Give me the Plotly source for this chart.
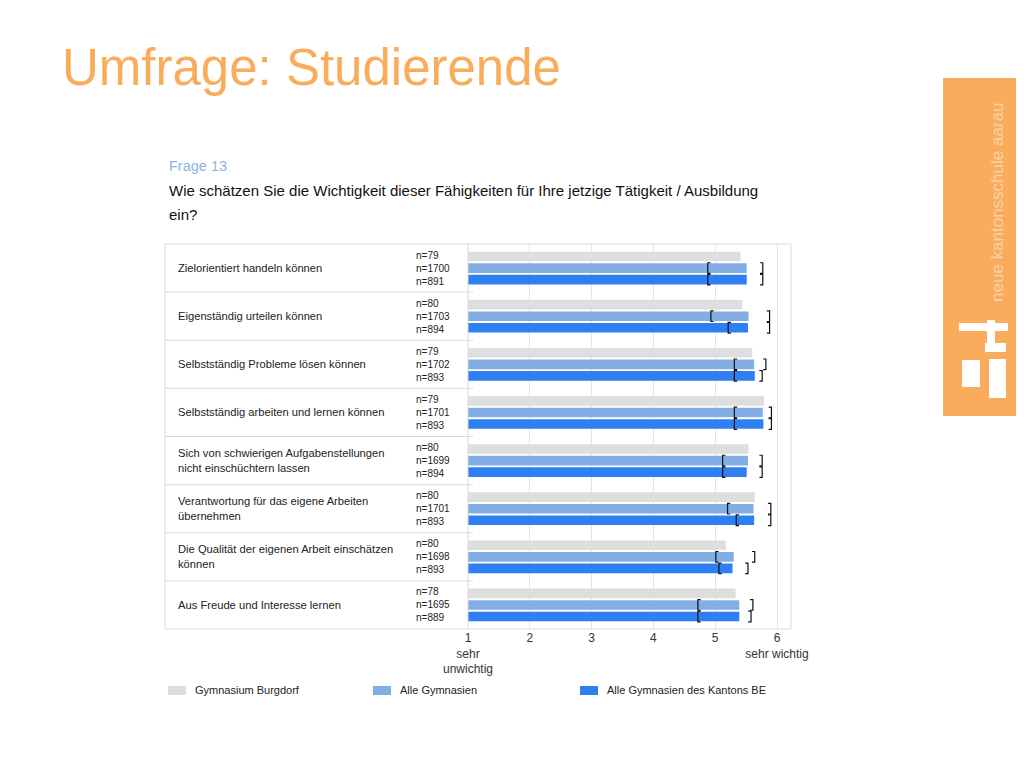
import plotly.graph_objects as go

# survey items (top to bottom)
items = [
    'Zielorientiert handeln können',
    'Eigenständig urteilen können',
    'Selbstständig Probleme lösen können',
    'Selbstständig arbeiten und lernen können',
    'Sich von schwierigen Aufgabenstellungen<br>nicht einschüchtern lassen',
    'Verantwortung für das eigene Arbeiten<br>übernehmen',
    'Die Qualität der eigenen Arbeit einschätzen<br>können',
    'Aus Freude und Interesse lernen',
]

series_names = ['Gymnasium Burgdorf', 'Alle Gymnasien', 'Alle Gymnasien des Kantons BE']
series_colors = ['#dedede', '#82aee3', '#2e7ff2']

# mean values
burgdorf = [5.41, 5.44, 5.60, 5.79, 5.54, 5.64, 5.17, 5.33]
alle = [5.51, 5.54, 5.63, 5.77, 5.53, 5.62, 5.30, 5.39]
kanton_be = [5.51, 5.53, 5.64, 5.78, 5.51, 5.63, 5.28, 5.39]

# interval brackets (low / high)
alle_lo = [4.88, 4.93, 5.31, 5.31, 5.12, 5.20, 5.01, 4.72]
alle_hi = [5.77, 5.88, 5.82, 5.91, 5.76, 5.90, 5.64, 5.61]
be_lo = [4.88, 5.21, 5.31, 5.31, 5.12, 5.34, 5.06, 4.72]
be_hi = [5.77, 5.88, 5.76, 5.91, 5.76, 5.90, 5.53, 5.58]

# sample sizes
n_burgdorf = [79, 80, 79, 79, 80, 80, 80, 78]
n_alle = [1700, 1703, 1702, 1701, 1699, 1701, 1698, 1695]
n_be = [891, 894, 893, 893, 894, 893, 893, 889]

tick_vals = [1, 2, 3, 4, 5, 6]
tick_text = ['1<br>sehr<br>unwichtig', '2', '3', '4', '5', '6<br>sehr wichtig']

# page is 1024x768, body keeps an 8px margin
PAD = 8
W, H = 1024 - 2 * PAD, 768 - 2 * PAD
FONT = 'Liberation Sans, Arial, sans-serif'
ORANGE = '#f9ad5c'

def px(x):
    return (x - PAD) / W

def py(y):
    return 1 - (y - PAD) / H

rows = list(range(len(items)))
offsets = [-0.24, 0, 0.24]
all_series = [burgdorf, alle, kanton_be]

fig = go.Figure()
for name, color, vals, off in zip(series_names, series_colors, all_series, offsets):
    fig.add_trace(go.Bar(
        x=vals, y=[r + off for r in rows], orientation='h', width=0.2,
        marker=dict(color=color, line=dict(width=0)), name=name, showlegend=False))

# brackets drawn as small line paths
def bracket_path(lo, hi, off):
    xs, ys = [], []
    h, c = 0.11, 0.045
    for r, a, b in zip(rows, lo, hi):
        yc = r + off
        xs += [a + c, a, a, a + c, None, b - c, b, b, b - c, None]
        ys += [yc - h, yc - h, yc + h, yc + h, None, yc - h, yc - h, yc + h, yc + h, None]
    return xs, ys

for lo, hi, off in [(alle_lo, alle_hi, 0), (be_lo, be_hi, 0.24)]:
    bx, by = bracket_path(lo, hi, off)
    fig.add_trace(go.Scatter(x=bx, y=by, mode='lines', line=dict(color='#111', width=1.2),
                             showlegend=False, hoverinfo='skip'))

x0, x1 = 468, 791
y0, y1 = 244, 629
unit = 61.8

fig.update_layout(
    width=W, height=H, margin=dict(l=0, r=0, t=0, b=0, autoexpand=False),
    paper_bgcolor='white', plot_bgcolor='white', barmode='overlay',
    font=dict(family=FONT, color='#222'),
    xaxis=dict(domain=[px(x0), px(x1)], range=[1, 1 + (x1 - x0) / unit],
               tickvals=tick_vals, ticktext=tick_text, showgrid=True, gridcolor='#e4e4e4',
               gridwidth=1, zeroline=False, showline=False, ticks='', automargin=False,
               tickfont=dict(size=12, color='#333')),
    yaxis=dict(domain=[py(y1), py(y0)], range=[len(items) - 0.5, -0.5], automargin=False,
               showticklabels=False, showgrid=False, zeroline=False),
)

shapes = []
# table frame
shapes.append(dict(type='rect', xref='paper', yref='paper', x0=px(165), x1=px(x1), y0=py(y1), y1=py(y0),
                   line=dict(color='#dadada', width=1)))
shapes.append(dict(type='line', xref='paper', yref='paper', x0=px(x0), x1=px(x0), y0=py(y1), y1=py(y0),
                   line=dict(color='#dadada', width=1)))
for r in rows[:-1]:
    shapes.append(dict(type='line', xref='paper', yref='y', x0=px(165), x1=px(473), y0=r + 0.5, y1=r + 0.5,
                       line=dict(color='#dadada', width=1)))

# orange side panel with logo
shapes.append(dict(type='rect', xref='paper', yref='paper', x0=px(943), x1=px(1024), y0=py(416), y1=py(78),
                   fillcolor=ORANGE, line=dict(width=0), layer='below'))
for a, b, c, d in [(959, 1008, 323, 331), (987, 995, 320, 345), (985, 1006, 343, 352),
                   (962, 980, 360, 387), (989, 1006, 359, 398)]:
    shapes.append(dict(type='rect', xref='paper', yref='paper', x0=px(a), x1=px(b), y0=py(d), y1=py(c),
                       fillcolor='white', line=dict(width=0)))

# legend boxes
legend_x = [168, 373, 580]
for lx, color in zip(legend_x, series_colors):
    shapes.append(dict(type='rect', xref='paper', yref='paper', x0=px(lx), x1=px(lx + 18),
                       y0=py(695), y1=py(686), fillcolor=color, line=dict(width=0)))
fig.update_layout(shapes=shapes)

ann = []
ann.append(dict(text='Umfrage: Studierende', x=px(60), y=py(68), xref='paper', yref='paper',
                xanchor='left', yanchor='middle', showarrow=False,
                font=dict(size=51, color=ORANGE, family=FONT)))
ann.append(dict(text='Frage 13', x=px(167), y=py(166), xref='paper', yref='paper',
                xanchor='left', yanchor='middle', showarrow=False,
                font=dict(size=14.5, color='#8db4e2', family=FONT)))
ann.append(dict(text='Wie schätzen Sie die Wichtigkeit dieser Fähigkeiten für Ihre jetzige Tätigkeit / Ausbildung',
                x=px(167), y=py(190), xref='paper', yref='paper', xanchor='left', yanchor='middle',
                showarrow=False, font=dict(size=15, color='#111', family=FONT)))
ann.append(dict(text='ein?', x=px(167), y=py(214), xref='paper', yref='paper', xanchor='left',
                yanchor='middle', showarrow=False, font=dict(size=15, color='#111', family=FONT)))
ann.append(dict(text='neue kantonsschule aarau', x=px(998), y=py(203), xref='paper', yref='paper',
                xanchor='center', yanchor='middle', textangle=-90, showarrow=False,
                font=dict(size=17, color='rgba(255,255,255,0.45)', family=FONT)))

for r, label, a, b, c in zip(rows, items, n_burgdorf, n_alle, n_be):
    ann.append(dict(text=label, x=px(176), y=r, xref='paper', yref='y', xanchor='left', yanchor='middle',
                    align='left', showarrow=False, font=dict(size=11.2, color='#222', family=FONT)))
    ann.append(dict(text=f'n={a}<br>n={b}<br>n={c}', x=px(414), y=r, xref='paper', yref='y',
                    xanchor='left', yanchor='middle', align='left', showarrow=False,
                    font=dict(size=10, color='#222', family=FONT)))

for lx, name in zip(legend_x, series_names):
    ann.append(dict(text=name, x=px(lx + 25), y=py(690), xref='paper', yref='paper', xanchor='left',
                    yanchor='middle', showarrow=False, font=dict(size=11, color='#222', family=FONT)))

fig.update_layout(annotations=ann)
fig.write_html('out.html')
